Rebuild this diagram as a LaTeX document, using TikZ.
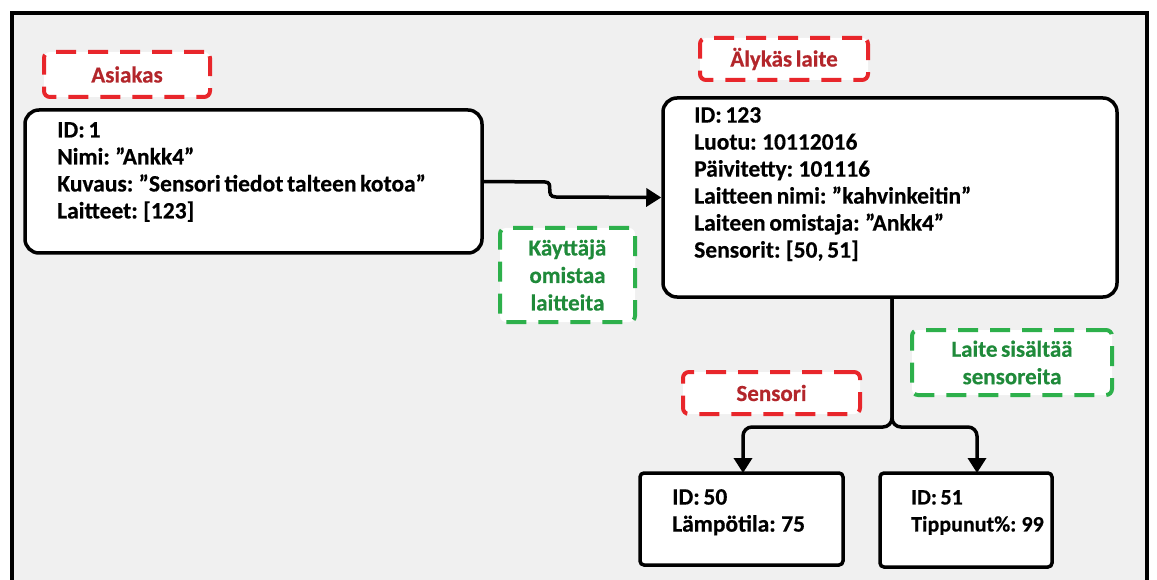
\documentclass[tikz,border=0pt]{standalone}
\usepackage{fontspec}
\setmainfont{Carlito}[WordSpace=0.7, BoldFeatures={FakeBold=0.4}]
\usetikzlibrary{arrows.meta}
\definecolor{bggray}{HTML}{F0F0F0}
\definecolor{reddash}{HTML}{E8262B}
\definecolor{redtext}{HTML}{B3262B}
\definecolor{greendash}{HTML}{2DB04B}
\definecolor{greentext}{HTML}{1F8A3A}
\newcommand{\sq}{\symbol{34}}
\tikzset{
  mainbox/.style={draw=black, line width=3.5pt, fill=white, inner sep=0pt},
  bigbox/.style={mainbox, rounded corners=14pt},
  smallbox/.style={mainbox, rounded corners=4pt},
  boxtext/.style={anchor=north west, inner sep=0pt, align=left, font=\fontsize{23.5}{27}\selectfont\bfseries},
  lbl/.style={fill=white, line width=4pt, dash pattern=on 20pt off 12pt, rounded corners=6pt, inner sep=0pt, align=center, font=\fontsize{23}{27.5}\selectfont\bfseries},
  redlbl/.style={lbl, draw=reddash, text=redtext},
  greenlbl/.style={lbl, draw=greendash, text=greentext},
  conn/.style={draw=black, line width=3.5pt, -{Triangle[length=15pt,width=18pt]}},
}
\begin{document}
\begin{tikzpicture}[x=1pt, y=-1pt]
\useasboundingbox (0,0) rectangle (1157,580);
% frame
\fill[bggray] (12,13) rectangle (1147,600);
\draw[line width=3.5pt] (12,600) -- (12,13) -- (1147,13) -- (1147,600);

% labels
\node[redlbl, minimum width=166pt, minimum height=45pt] (lblasi) at (127,74.5) {Asiakas};
\node[redlbl, minimum width=168pt, minimum height=42pt] (lblaly) at (784,59) {Älykäs laite};
\node[greenlbl, minimum width=135pt, minimum height=94pt] (lblomist) at (567.5,275) {Käyttäjä\\omistaa\\laitteita};
\node[redlbl, minimum width=177pt, minimum height=42pt] (lblsens) at (771.5,393) {Sensori};
\node[greenlbl, minimum width=200pt, minimum height=65pt] (lblsis) at (1012,362.5) {Laite sisältää\\sensoreita};

% main boxes
\node[bigbox, minimum width=457pt, minimum height=143pt] (asi) at (253.5,181.5) {};
\node[boxtext] (asitext) at (57,122) {ID: 1\\Nimi: ”Ankk4\sq\\Kuvaus: ”Sensori tiedot talteen kotoa”\\Laitteet: [123]};

\node[bigbox, minimum width=454pt, minimum height=199pt] (dev) at (890,197.5) {};
\node[boxtext] (devtext) at (694,107) {ID: 123\\Luotu: 10112016\\Päivitetty: 101116\\Laitteen nimi: ”kahvinkeitin”\\Laiteen omistaja: ”Ankk4\sq\\Sensorit: [50, 51]};

\node[smallbox, minimum width=203pt, minimum height=92pt] (s50) at (741.5,519) {};
\node[boxtext] (s50text) at (672,489) {ID: 50\\Lämpötila: 75};

\node[smallbox, minimum width=172pt, minimum height=94pt] (s51) at (966,520) {};
\node[boxtext, font=\fontsize{22}{27}\selectfont\bfseries] (s51text) at (911,490) {ID: 51\\Tippunut\%: 99};

% connectors
\draw[conn] (asi.east) -- (545,182) .. controls (555,182) and (544,197) .. (556,197) -- (dev.west);
\coordinate (split) at (892,427);
\coordinate (s50in) at (743,473);
\coordinate (s51in) at (977,473);
\draw[conn, rounded corners=9pt] (dev.south -| split) -- (split) -| (s50in);
\draw[conn, rounded corners=9pt] (dev.south -| split) -- (split) -| (s51in);
\end{tikzpicture}
\end{document}
